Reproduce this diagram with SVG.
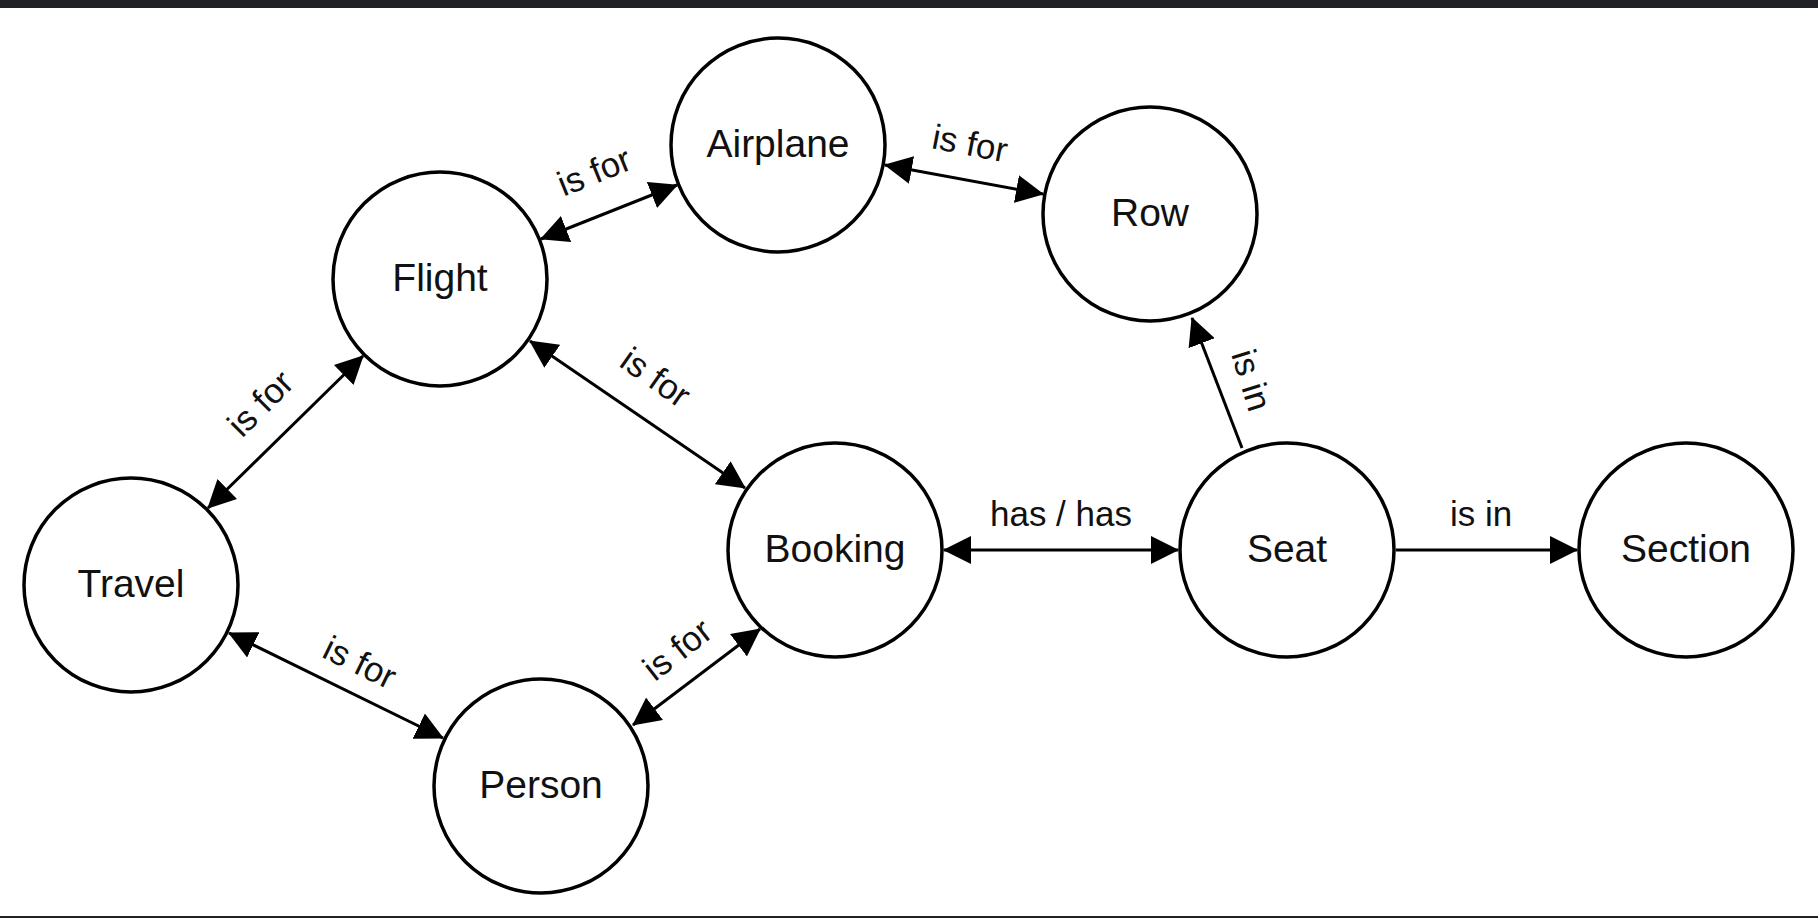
<svg xmlns="http://www.w3.org/2000/svg" width="1818" height="918" viewBox="0 0 1818 918">
<defs>
<marker id="ah" viewBox="0 0 28 28" refX="27" refY="14" markerWidth="28" markerHeight="28" markerUnits="userSpaceOnUse" orient="auto-start-reverse">
<path d="M0,0 L28,14 L0,28 Z" fill="#000"/>
</marker>
<style>
.node circle{fill:#fff;stroke:#000;stroke-width:3.5}
.node text{font-family:"Liberation Sans",Arial,sans-serif;font-size:39px;fill:#111;text-anchor:middle;dominant-baseline:central}
.edge{stroke:#000;stroke-width:3;fill:none}
.lbl{font-family:"Liberation Sans",Arial,sans-serif;font-size:35px;fill:#111;text-anchor:middle;dominant-baseline:central}
</style>
</defs>
<rect x="0" y="0" width="1818" height="918" fill="#fff"/>
<rect x="0" y="0" width="1818" height="8" fill="#212226"/>
<rect x="0" y="916" width="1818" height="2" fill="#212226"/>
<g id="connectors">
<line class="edge" x1="541" y1="239" x2="677" y2="185" marker-start="url(#ah)" marker-end="url(#ah)"/>
<line class="edge" x1="885" y1="165" x2="1043" y2="194" marker-start="url(#ah)" marker-end="url(#ah)"/>
<line class="edge" x1="530" y1="341" x2="745" y2="488" marker-start="url(#ah)" marker-end="url(#ah)"/>
<line class="edge" x1="363" y1="356" x2="208" y2="508" marker-start="url(#ah)" marker-end="url(#ah)"/>
<line class="edge" x1="229" y1="633" x2="443" y2="738" marker-start="url(#ah)" marker-end="url(#ah)"/>
<line class="edge" x1="633" y1="725" x2="760" y2="629" marker-start="url(#ah)" marker-end="url(#ah)"/>
<line class="edge" x1="944" y1="550" x2="1178" y2="550" marker-start="url(#ah)" marker-end="url(#ah)"/>
<line class="edge" x1="1242" y1="448" x2="1192" y2="318" marker-end="url(#ah)"/>
<line class="edge" x1="1396" y1="550" x2="1577" y2="550" marker-end="url(#ah)"/>
<text class="lbl" transform="translate(594,171) rotate(-22)">is for</text>
<text class="lbl" transform="translate(970,143) rotate(11)">is for</text>
<text class="lbl" transform="translate(656,377) rotate(35)">is for</text>
<text class="lbl" transform="translate(260,403) rotate(-45)">is for</text>
<text class="lbl" transform="translate(360,662) rotate(26)">is for</text>
<text class="lbl" transform="translate(677,649) rotate(-38)">is for</text>
<text class="lbl" x="1061" y="513">has / has</text>
<text class="lbl" transform="translate(1252,380) rotate(73)">is in</text>
<text class="lbl" x="1481" y="513">is in</text>
</g>
<g id="airplane" class="node"><circle cx="778" cy="145" r="107"/><text x="778" y="143">Airplane</text></g>
<g id="row" class="node"><circle cx="1150" cy="214" r="107"/><text x="1150" y="212">Row</text></g>
<g id="flight" class="node"><circle cx="440" cy="279" r="107"/><text x="440" y="277">Flight</text></g>
<g id="travel" class="node"><circle cx="131" cy="585" r="107"/><text x="131" y="583">Travel</text></g>
<g id="booking" class="node"><circle cx="835" cy="550" r="107"/><text x="835" y="548">Booking</text></g>
<g id="seat" class="node"><circle cx="1287" cy="550" r="107"/><text x="1287" y="548">Seat</text></g>
<g id="section" class="node"><circle cx="1686" cy="550" r="107"/><text x="1686" y="548">Section</text></g>
<g id="person" class="node"><circle cx="541" cy="786" r="107"/><text x="541" y="784">Person</text></g>
</svg>
